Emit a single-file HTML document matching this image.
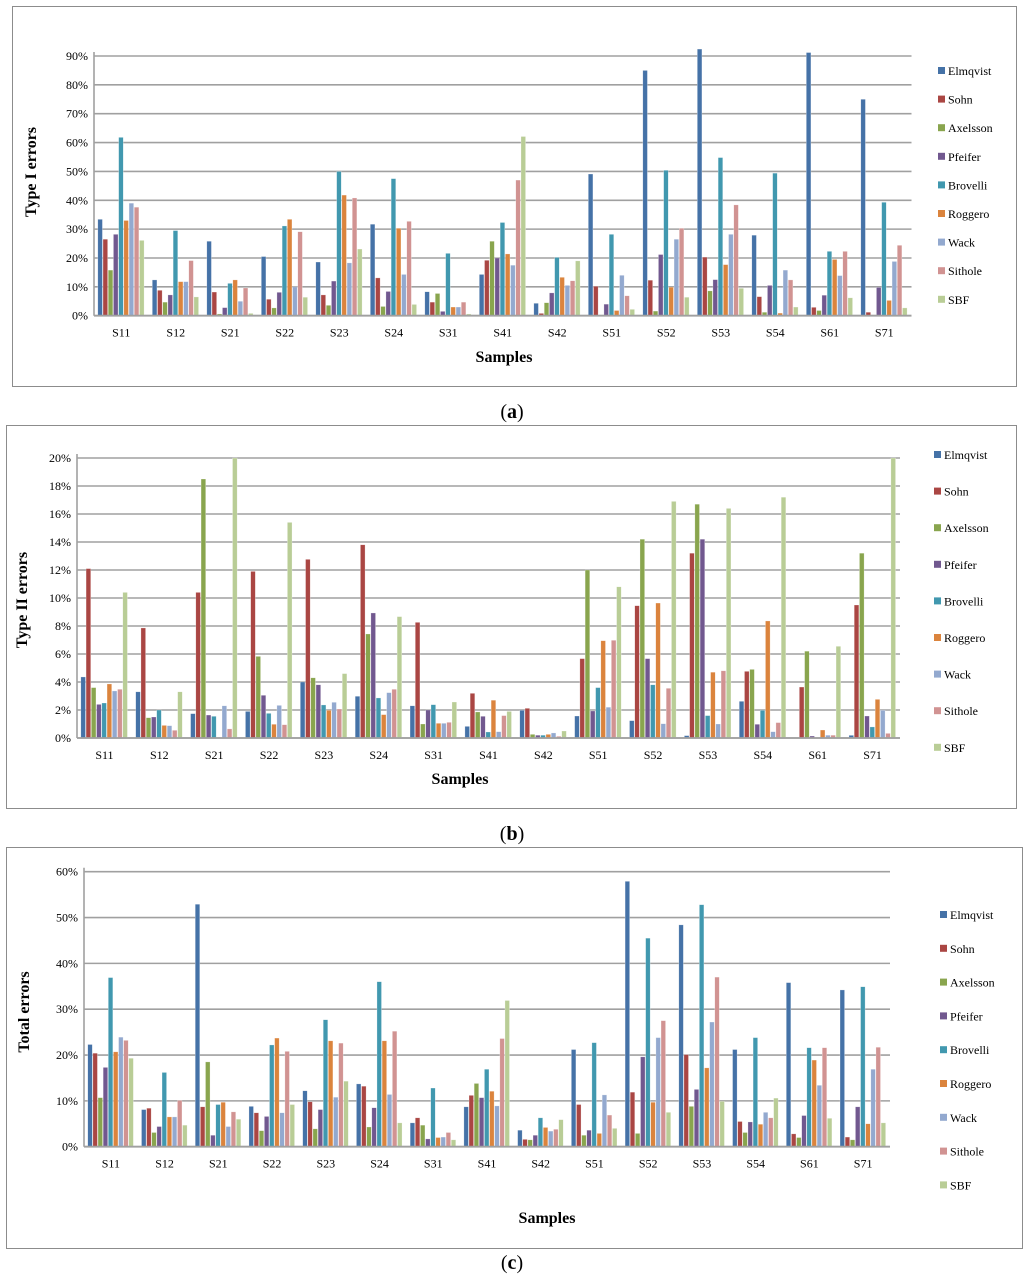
<!DOCTYPE html>
<html><head><meta charset="utf-8"><style>
body{margin:0;background:#fff;width:1024px;height:1276px;overflow:hidden;font-family:"Liberation Serif",serif}
svg{position:absolute;left:0;top:0}
</style></head><body>
<svg id="chart" width="1024" height="1276" xmlns="http://www.w3.org/2000/svg"></svg>
<script>
const categories=["S11","S12","S21","S22","S23","S24","S31","S41","S42","S51","S52","S53","S54","S61","S71"];
const seriesNames=["Elmqvist","Sohn","Axelsson","Pfeifer","Brovelli","Roggero","Wack","Sithole","SBF"];
const colors=["#4572A7","#AA4643","#89A54E","#71588F","#4198AF","#DB843D","#93A9CF","#D19392","#B9CD96"];
// Type I values (%), per sample: 9 series
const typeI=[
[33.4,26.5,15.8,28.2,61.8,33,39,37.6,26.1],
[12.4,8.8,4.7,7.2,29.5,11.8,11.8,19.1,6.5],
[25.8,8.2,0.6,2.8,11.2,12.4,5,9.6,0.8],
[20.5,5.7,2.7,8.1,31.1,33.4,10,29.1,6.4],
[18.6,7.2,3.6,12,50,41.8,18.3,40.8,23.1],
[31.7,13.1,3.2,8.4,47.5,30.3,14.3,32.7,3.9],
[8.3,4.7,7.7,1.5,21.6,3,3,4.7,0.6],
[14.3,19.2,25.8,20,32.3,21.4,17.5,47,62.1],
[4.3,0.8,4.5,7.9,20.2,13.3,10.5,12.1,19],
[49.1,10.2,0,4,28.2,1.8,14,6.9,2.2],
[85,12.3,1.6,21.2,50.4,9.9,26.5,30.3,6.4],
[92.4,20.3,8.6,12.5,54.8,17.7,28.2,38.4,9.5],
[27.9,6.6,1.2,10.5,49.4,0.9,15.8,12.4,3],
[91.2,2.9,1.8,7.1,22.3,19.5,13.9,22.3,6.2],
[75,1.2,0,9.8,39.3,5.3,18.8,24.4,2.7]];
const typeII=[
[4.36,12.1,3.6,2.4,2.5,3.86,3.36,3.48,10.4],
[3.3,7.86,1.45,1.5,2,0.9,0.88,0.55,3.3],
[1.74,10.4,18.5,1.64,1.55,0,2.3,0.65,20],
[1.9,11.9,5.83,3.05,1.76,0.98,2.33,0.95,15.4],
[4,12.76,4.3,3.8,2.36,1.98,2.55,2.07,4.6],
[2.98,13.8,7.43,8.93,2.86,1.67,3.24,3.48,8.67],
[2.3,8.26,1,2,2.38,1.05,1.05,1.12,2.57],
[0.83,3.19,1.86,1.55,0.43,2.7,0.45,1.6,1.9],
[1.98,2.12,0.26,0.2,0.2,0.26,0.36,0.12,0.5],
[1.57,5.67,12,1.93,3.6,6.95,2.2,6.98,10.8],
[1.24,9.45,14.2,5.67,3.8,9.64,1.02,3.55,16.9],
[0.17,13.2,16.7,14.2,1.6,4.7,1,4.8,16.4],
[2.62,4.76,4.9,0.98,1.98,8.36,0.45,1.1,17.2],
[0,3.64,6.2,0.14,0,0.57,0.2,0.2,6.55],
[0.19,9.5,13.2,1.57,0.79,2.76,1.98,0.33,20]];
const totalErr=[
[22.3,20.4,10.7,17.3,36.9,20.7,23.9,23.2,19.3],
[8.1,8.4,3.1,4.4,16.2,6.5,6.5,10.1,4.7],
[52.9,8.7,18.5,2.5,9.2,9.7,4.4,7.6,6],
[8.8,7.4,3.5,6.6,22.2,23.7,7.4,20.8,9.2],
[12.2,9.8,3.9,8.1,27.7,23.1,10.8,22.6,14.3],
[13.7,13.2,4.3,8.5,36,23.1,11.4,25.2,5.2],
[5.2,6.3,4.7,1.7,12.8,2,2.1,3.1,1.5],
[8.7,11.2,13.8,10.7,16.9,12.1,8.9,23.6,31.9],
[3.6,1.6,1.5,2.5,6.3,4.2,3.4,3.8,5.9],
[21.2,9.2,2.5,3.6,22.7,2.9,11.3,6.9,4],
[57.9,11.9,2.9,19.6,45.5,9.7,23.8,27.5,7.5],
[48.4,20.1,8.8,12.5,52.8,17.2,27.2,37,9.9],
[21.2,5.5,3.1,5.4,23.8,4.9,7.5,6.3,10.6],
[35.8,2.8,2,6.8,21.6,18.9,13.4,21.6,6.2],
[34.2,2.1,1.5,8.7,34.9,5,16.9,21.7,5.2]];
const ticksA=[0,10,20,30,40,50,60,70,80,90];
const ticksB=[0,2,4,6,8,10,12,14,16,18,20];
const ticksC=[0,10,20,30,40,50,60];

const NS="http://www.w3.org/2000/svg";
const svg=document.getElementById('chart');
function mk(tag,attrs,parent,text){const e=document.createElementNS(NS,tag);for(const k in attrs)e.setAttribute(k,attrs[k]);if(text!==undefined)e.textContent=text;(parent||svg).appendChild(e);return e;}

const panels=[
{key:"a",data:typeI,ticks:ticksA,max:90,frame:[12,6,1004,380],left:94,right:911.5,y0:315.7,yTop:56,title:"Type I errors",tx:36,ty:172,sx:504,sy:362,lx:938,ly:71,ld:28.6,cap:[512,418]},
{key:"b",data:typeII,ticks:ticksB,max:20,frame:[6,425,1010,383],left:77,right:900,y0:738,yTop:458,title:"Type II errors",tx:27,ty:600,sx:460,sy:784,lx:934,ly:455,ld:36.6,cap:[512,840]},
{key:"c",data:totalErr,ticks:ticksC,max:60,frame:[6,847,1016,401],left:84,right:890,y0:1146.7,yTop:871.7,title:"Total errors",tx:29,ty:1012,sx:547,sy:1223,lx:940,ly:915,ld:33.8,cap:[512,1269]}];

panels.forEach(p=>{
  const g=mk('g',{});
  
  
  const fr=mk('rect',{x:p.frame[0]+.5,y:p.frame[1]+.5,width:p.frame[2],height:p.frame[3],fill:'none',stroke:'#8c8c8c','stroke-width':1},g);
  
  
  const yScale=v=>p.y0-(v/p.max)*(p.y0-p.yTop);
  const gw=(p.right-p.left)/categories.length;
  const bw=gw*0.86/9;
  p.ticks.forEach(t=>{
    const y=yScale(t);
    const gl=mk('line',{x1:p.left,x2:p.right,y1:y,y2:y,stroke:'#a0a0a0','stroke-width':1.6},g);
    
    
    const tl=mk('text',{x:p.left-6,y:y+4,'text-anchor':'end','font-size':12,fill:'#000'},g,t+'%');
    
    
  });
  const ax=mk('line',{x1:p.left,x2:p.left,y1:p.yTop-4,y2:p.y0,stroke:'#a0a0a0','stroke-width':1.6},g);
  
  
  categories.forEach((c,i)=>{
    const gx=p.left+i*gw+gw*0.07;
    p.data[i].forEach((v,s)=>{
      if(v<=0)return;
      const y=yScale(v);
      const b=mk('rect',{x:gx+s*bw,y:y,width:bw-0.6,height:p.y0-y,fill:colors[s],stroke:'rgba(255,255,255,0.5)','stroke-width':0.5},g);
      
      
    });
    const xl=mk('text',{x:p.left+(i+0.5)*gw,y:p.y0+21,'text-anchor':'middle','font-size':12},g,c);
    
    
  });
  const xa=mk('line',{x1:p.left,x2:p.right,y1:p.y0,y2:p.y0,stroke:'#a0a0a0','stroke-width':1.8},g);
  
  
  const yt=mk('text',{x:p.tx,y:p.ty,'text-anchor':'middle','font-size':16,'font-weight':'bold',transform:'rotate(-90 '+p.tx+' '+p.ty+')'},g,p.title);
  
  
  const xt=mk('text',{x:p.sx,y:p.sy,'text-anchor':'middle','font-size':16,'font-weight':'bold'},g,'Samples');
  
  
  seriesNames.forEach((n,s)=>{
    const y=p.ly+s*p.ld;
    const sq=mk('rect',{x:p.lx,y:y-4,width:7,height:7,fill:colors[s]},g);
    
    
    const lt=mk('text',{x:p.lx+10,y:y+4,'font-size':12},g,n);
    
    
  });
  const cp=mk('text',{x:p.cap[0],y:p.cap[1],'text-anchor':'middle','font-size':20},g);
  
  
  mk('tspan',{},cp,'(');
  mk('tspan',{'font-weight':'bold'},cp,p.key);
  mk('tspan',{},cp,')');
});
</script>
</body></html>
